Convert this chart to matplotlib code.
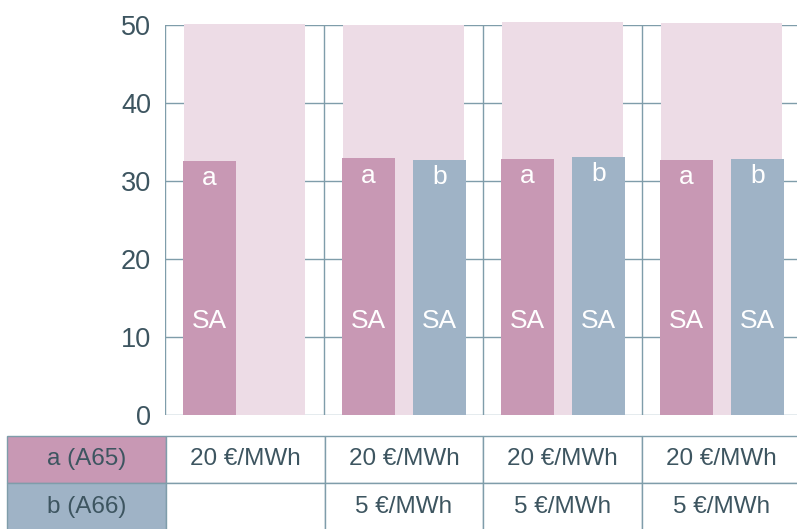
import numpy as np
import matplotlib
matplotlib.use("Agg")
import matplotlib.pyplot as plt

# ----------------------------------------------
# Datos
# ----------------------------------------------
grupos = [0, 1, 2, 3]
fondo = [50.1, 50.0, 50.4, 50.2]          # barra de fondo rosa claro
valores_a = [32.6, 32.9, 32.8, 32.65]       # a (A65)
valores_b = [np.nan, 32.7, 33.1, 32.8]      # b (A66), sin valor en el primer grupo
etiquetas_filas = ["a (A65)", "b (A66)"]
precios_a = ["20 €/MWh", "20 €/MWh", "20 €/MWh", "20 €/MWh"]
precios_b = ["", "5 €/MWh", "5 €/MWh", "5 €/MWh"]
yticks = [0, 10, 20, 30, 40, 50]

# ----------------------------------------------
# Estilo
# ----------------------------------------------
plt.rcParams["font.family"] = ["Liberation Sans", "DejaVu Sans"]
c_a = "#C898B4"
c_b = "#9FB3C6"
c_fondo = "#EDDCE6"
c_linea = "#7F9DAA"
c_texto = "#3D5560"

W, H = 797, 529
fig = plt.figure(figsize=(W / 100, H / 100), dpi=100)
ax = fig.add_axes([165 / W, (H - 415) / H, 636 / W, 390 / H])

x = np.array(grupos, dtype=float)
ax.bar(x, fondo, width=0.755, color=c_fondo, zorder=2, clip_on=False)
ax.bar(x - 0.22, valores_a, width=0.33, color=c_a, zorder=3, clip_on=False)
ax.bar(x + 0.225, valores_b, width=0.33, color=c_b, zorder=3, clip_on=False)

# etiquetas dentro de las barras
for xi, va, vb in zip(x, valores_a, valores_b):
    ax.text(xi - 0.22, va - 2.2, "a", color="white", ha="center", va="center",
            fontsize=19, zorder=4)
    ax.text(xi - 0.22, 12, "SA", color="white", ha="center", va="center",
            fontsize=19, zorder=4)
    if not np.isnan(vb):
        ax.text(xi + 0.225, vb - 2.2, "b", color="white", ha="center",
                va="center", fontsize=19, zorder=4)
        ax.text(xi + 0.225, 12, "SA", color="white", ha="center",
                va="center", fontsize=19, zorder=4)

ax.set_xlim(-0.5, 3.5)
ax.set_ylim(0, 50)
ax.set_yticks(yticks)
ax.set_xticks([])
ax.set_xticks([g - 0.5 for g in grupos] + [3.5], minor=True)
ax.tick_params(axis="y", length=0, pad=10, labelsize=19.5, labelcolor=c_texto)
ax.tick_params(axis="x", which="both", length=0)
ax.grid(axis="y", color=c_linea, linewidth=1, zorder=0)
ax.grid(axis="x", which="minor", color=c_linea, linewidth=1, zorder=0)
ax.set_axisbelow(True)
for s in ax.spines.values():
    s.set_visible(False)

# ----------------------------------------------
# Tabla inferior
# ----------------------------------------------
celdas = [[etiquetas_filas[0]] + precios_a,
          [etiquetas_filas[1]] + precios_b]
colores = [[c_a] + ["white"] * 4,
           [c_b] + ["white"] * 4]
tabla = ax.table(cellText=celdas, cellColours=colores, cellLoc="center",
                 bbox=[-158 / 636, -0.297, 1 + 158 / 636, 0.244])
tabla.auto_set_font_size(False)
tabla.set_fontsize(17.5)
for (r, c), celda in tabla.get_celld().items():
    celda.set_edgecolor(c_linea)
    celda.set_linewidth(1)
    celda.get_text().set_color(c_texto)

fig.savefig("out.png", dpi=100)
plt.close(fig)
